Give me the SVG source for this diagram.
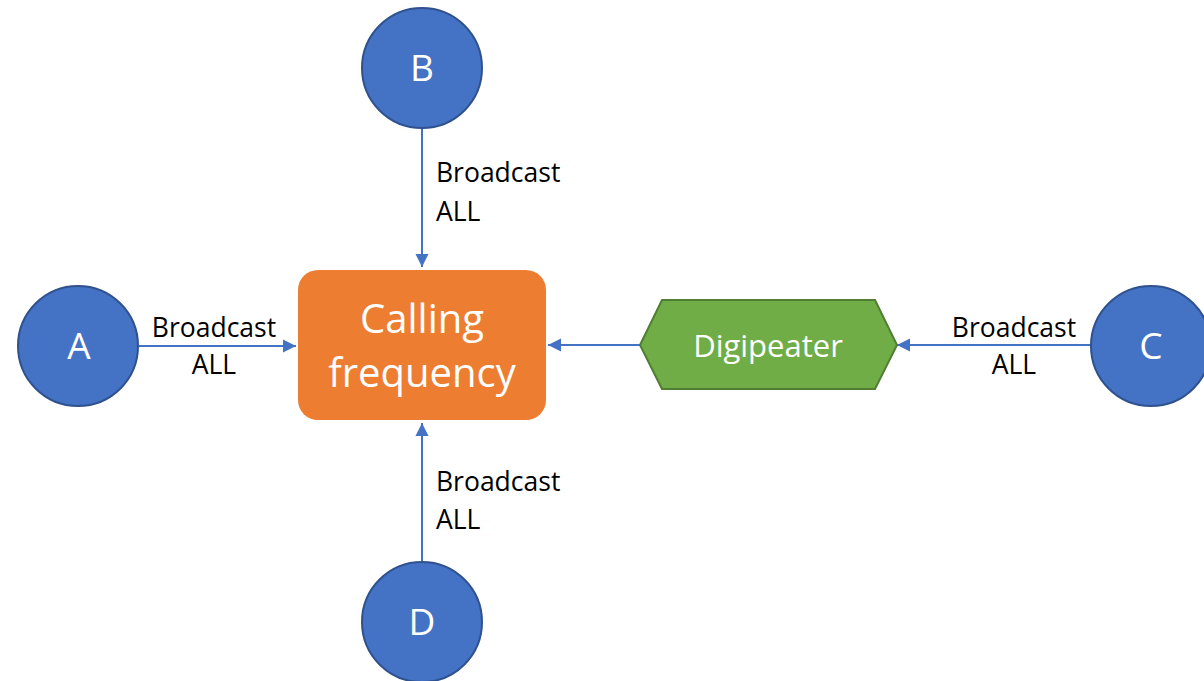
<svg xmlns="http://www.w3.org/2000/svg" width="1204" height="681" viewBox="0 0 1204 681">
<defs>
<marker id="arr" markerUnits="userSpaceOnUse" markerWidth="14" markerHeight="14" viewBox="0 0 14 14" refX="13" refY="7" orient="auto">
<path d="M0,0.5 L13,7 L0,13.5 Z" fill="#4472C4"/>
</marker>
<style>
.circ{fill:#4472C4;stroke:#2F528F;stroke-width:2}
.lt{font-family:"Open Sans","Noto Sans",sans-serif;fill:#FFFFFF;text-anchor:middle}
.lbl{font-family:"Open Sans","Noto Sans",sans-serif;font-size:26.5px;fill:#000000}
.con{stroke:#4472C4;stroke-width:2;fill:none;marker-end:url(#arr)}
</style>
</defs>
<rect width="1204" height="681" fill="#FFFFFF"/>
<g id="connectors">
<line class="con" x1="139" y1="346" x2="296" y2="346"/>
<line class="con" x1="422" y1="128" x2="422" y2="267"/>
<line class="con" x1="422" y1="562" x2="422" y2="423"/>
<line class="con" x1="640" y1="345" x2="548" y2="345"/>
<line class="con" x1="1091" y1="345" x2="897" y2="345"/>
<text class="lbl" x="214" y="337" text-anchor="middle">Broadcast</text>
<text class="lbl" x="214" y="374" text-anchor="middle">ALL</text>
<text class="lbl" x="436" y="182">Broadcast</text>
<text class="lbl" x="436" y="221">ALL</text>
<text class="lbl" x="436" y="491">Broadcast</text>
<text class="lbl" x="436" y="529">ALL</text>
<text class="lbl" x="1014" y="337" text-anchor="middle">Broadcast</text>
<text class="lbl" x="1014" y="374" text-anchor="middle">ALL</text>
</g>
<g id="calling">
<rect x="298" y="270" width="248" height="150" rx="20" ry="20" fill="#ED7D31"/>
<text class="lt" x="422" y="333" font-size="40">Calling</text>
<text class="lt" x="422" y="387" font-size="40">frequency</text>
</g>
<g id="digipeater">
<polygon points="640,345 662,300 875,300 897,345 875,389 662,389" fill="#70AD47" stroke="#507E32" stroke-width="2"/>
<text class="lt" x="768" y="357" font-size="31">Digipeater</text>
</g>
<g id="nodeA">
<circle class="circ" cx="78" cy="346" r="60"/>
<text class="lt" x="79" y="359" font-size="37">A</text>
</g>
<g id="nodeB">
<circle class="circ" cx="422" cy="68" r="60"/>
<text class="lt" x="422" y="81" font-size="37">B</text>
</g>
<g id="nodeC">
<circle class="circ" cx="1151" cy="346" r="60"/>
<text class="lt" x="1151" y="359" font-size="37">C</text>
</g>
<g id="nodeD">
<circle class="circ" cx="422" cy="622" r="60"/>
<text class="lt" x="422" y="635" font-size="37">D</text>
</g>
</svg>
